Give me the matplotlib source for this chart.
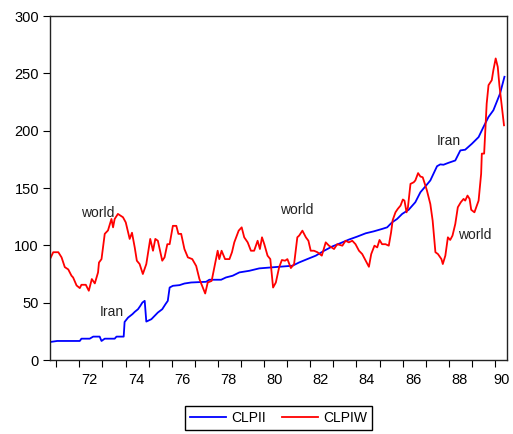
import matplotlib
matplotlib.use("Agg")
import matplotlib.pyplot as plt
from matplotlib.ticker import FixedLocator, NullFormatter

plt.rcParams["font.family"] = ["Liberation Sans", "DejaVu Sans"]

# CLPIW (world) - decimal year, index value
world_year = [1970.73, 1970.87, 1971.09, 1971.23, 1971.37, 1971.52, 1971.66, 1971.73, 1971.88, 1972.02,
              1972.09, 1972.28, 1972.41, 1972.54, 1972.67, 1972.81, 1972.85, 1972.96, 1973.10, 1973.24,
              1973.39, 1973.46, 1973.53, 1973.67, 1973.89, 1974.01, 1974.18, 1974.28, 1974.40, 1974.49,
              1974.61, 1974.75, 1974.90, 1975.07, 1975.19, 1975.29, 1975.40, 1975.59, 1975.69, 1975.81,
              1975.91, 1976.05, 1976.20, 1976.29, 1976.41, 1976.55, 1976.70, 1976.89, 1977.06, 1977.20,
              1977.45, 1977.56, 1977.73, 1977.92, 1977.99, 1978.06, 1978.16, 1978.31, 1978.50, 1978.61,
              1978.71, 1978.90, 1979.03, 1979.14, 1979.29, 1979.43, 1979.57, 1979.72, 1979.82, 1979.91,
              1980.01, 1980.15, 1980.27, 1980.39, 1980.51, 1980.65, 1980.77, 1980.91, 1981.01, 1981.16,
              1981.30, 1981.44, 1981.52, 1981.66, 1981.81, 1981.92, 1982.02, 1982.16, 1982.31, 1982.50,
              1982.67, 1982.81, 1983.03, 1983.17, 1983.39, 1983.53, 1983.67, 1983.82, 1983.96, 1984.11,
              1984.25, 1984.40, 1984.54, 1984.64, 1984.78, 1984.90, 1985.00, 1985.11, 1985.26, 1985.40,
              1985.50, 1985.57, 1985.69, 1985.79, 1985.91, 1986.01, 1986.08, 1986.17, 1986.23, 1986.34,
              1986.48, 1986.55, 1986.67, 1986.77, 1986.87, 1987.05, 1987.20, 1987.30, 1987.42, 1987.53,
              1987.68, 1987.74, 1987.85, 1987.96, 1988.06, 1988.16, 1988.28, 1988.39, 1988.52, 1988.64,
              1988.71, 1988.81, 1988.90, 1988.97, 1989.11, 1989.29, 1989.40, 1989.43, 1989.53, 1989.64,
              1989.72, 1989.86, 1989.93, 1990.03, 1990.12, 1990.19, 1990.29, 1990.39]
world_val = [88.0, 94.0, 94.0, 89.5, 81.0, 79.0, 73.5, 72.0, 65.0, 62.7,
             65.6, 65.6, 60.4, 70.6, 66.8, 76.4, 85.0, 88.0, 110.0, 113.0,
             123.0, 115.7, 123.0, 127.4, 124.5, 120.0, 105.6, 111.0, 98.0, 86.6,
             83.7, 75.0, 83.7, 105.6, 95.3, 105.6, 104.0, 86.6, 89.5, 101.0,
             101.0, 117.0, 117.0, 110.0, 110.0, 96.8, 89.5, 88.0, 82.0, 70.6,
             58.0, 67.6, 69.0, 88.0, 95.3, 88.0, 95.3, 88.0, 88.0, 94.0,
             102.6, 112.8, 115.7, 107.0, 102.6, 95.3, 95.3, 104.0, 96.8, 107.0,
             101.0, 91.0, 88.0, 63.2, 67.6, 80.7, 87.2, 86.6, 88.0, 80.2,
             83.7, 107.0, 108.5, 112.8, 107.0, 104.0, 95.3, 95.3, 94.0, 91.0,
             102.6, 99.7, 96.8, 101.0, 99.7, 104.0, 102.6, 104.0, 101.0, 95.3,
             92.4, 86.6, 81.3, 92.4, 99.7, 98.2, 104.7, 101.0, 101.0, 99.7,
             111.3, 122.0, 128.8, 131.8, 134.7, 140.0, 139.0, 128.8, 133.2, 153.6,
             155.0, 156.6, 163.0, 160.0, 159.4, 148.0, 136.0, 121.6, 94.0, 92.4,
             88.0, 83.7, 91.0, 107.0, 104.7, 108.5, 118.6, 133.2, 137.6, 140.5,
             139.0, 143.4, 140.5, 131.0, 128.8, 139.0, 162.4, 180.0, 180.0, 223.6,
             239.7, 244.0, 252.8, 263.0, 255.6, 239.7, 222.0, 204.7]

# CLPII (Iran)
iran_year = [1970.73, 1971.04, 1972.02, 1972.09, 1972.45, 1972.60, 1972.88, 1972.96, 1973.10, 1973.53,
             1973.61, 1973.92, 1973.96, 1974.11, 1974.30, 1974.40, 1974.54, 1974.64, 1974.73, 1974.83,
             1974.90, 1975.12, 1975.26, 1975.40, 1975.59, 1975.73, 1975.83, 1975.91, 1976.05, 1976.34,
             1976.55, 1976.84, 1977.49, 1977.63, 1978.14, 1978.35, 1978.64, 1978.93, 1979.36, 1979.79,
             1980.65, 1981.23, 1981.52, 1981.87, 1982.24, 1982.60, 1982.95, 1983.32, 1983.67, 1984.03,
             1984.40, 1984.75, 1985.11, 1985.33, 1985.54, 1985.76, 1985.98, 1986.26, 1986.55, 1986.77,
             1986.99, 1987.20, 1987.49, 1987.63, 1987.77, 1987.99, 1988.28, 1988.50, 1988.71, 1989.00,
             1989.29, 1989.50, 1989.72, 1989.93, 1990.22, 1990.41]
iran_val = [15.7, 16.6, 16.6, 18.6, 18.6, 20.4, 20.4, 16.6, 18.6, 18.6,
            20.4, 20.4, 33.2, 37.0, 40.0, 42.0, 44.3, 47.2, 50.1, 51.6,
            33.5, 35.6, 38.5, 41.4, 44.3, 48.7, 51.6, 63.2, 64.7, 65.3,
            66.7, 67.6, 68.2, 70.0, 70.0, 72.0, 73.5, 76.4, 77.8, 79.9,
            81.3, 82.2, 85.1, 88.0, 91.0, 95.3, 99.0, 102.0, 105.0, 107.6,
            110.5, 112.2, 114.3, 115.7, 120.0, 123.0, 127.4, 131.0, 137.6, 146.3,
            151.5, 156.6, 169.0, 170.6, 170.3, 172.0, 174.0, 182.8, 183.4, 188.6,
            194.4, 203.2, 212.0, 217.8, 232.4, 247.0]

# text labels placed on the chart
note_text = ["world", "Iran", "world", "Iran", "world"]
note_x = [1972.8, 1973.4, 1981.4, 1988.0, 1989.1]
note_y = [128.6, 42.0, 131.0, 190.7, 109.0]

years = list(range(1971, 1991))
label_years = [1972, 1974, 1976, 1978, 1980, 1982, 1984, 1986, 1988, 1990]
x_min, x_max = 1970.73, 1990.52

fig = plt.figure(figsize=(5.13, 4.34), dpi=100)
ax = fig.add_axes([0.0975, 0.1705, 0.8908, 0.7926])

line_i, = ax.plot(iran_year, iran_val, color="#0000ff", linewidth=1.3, label="CLPII")
line_w, = ax.plot(world_year, world_val, color="#ff0000", linewidth=1.3, label="CLPIW")

for t, x, y in zip(note_text, note_x, note_y):
    ax.text(x, y, t, fontsize=10, ha="center", va="center", color="#222222")

ax.set_xlim(x_min, x_max)
ax.set_ylim(0, 300)
ax.set_yticks([0, 50, 100, 150, 200, 250, 300])
ax.tick_params(axis="y", direction="out", length=5, width=0.8, labelsize=10.5, pad=3)

# year ticks on boundaries, two-digit labels centred in each even year
# (last one pulled in so it stays on the canvas)
label_pos = [min(y + 0.45, x_max - 0.25) for y in label_years]
ax.xaxis.set_major_locator(FixedLocator(years))
ax.xaxis.set_major_formatter(NullFormatter())
ax.xaxis.set_minor_locator(FixedLocator(label_pos))
ax.set_xticklabels([str(y)[2:] for y in label_years], minor=True)
ax.tick_params(axis="x", which="major", direction="out", length=5, width=0.8)
ax.tick_params(axis="x", which="minor", length=0, labelsize=10.5, pad=9)

for s in ax.spines.values():
    s.set_linewidth(1.0)
    s.set_color("#222222")

leg = fig.legend([line_i, line_w], ["CLPII", "CLPIW"], loc="center",
                 bbox_to_anchor=(278.5 / 513, 0.037), ncol=2, fontsize=10,
                 fancybox=False, edgecolor="black", framealpha=1,
                 handlelength=2.6, handletextpad=0.4, columnspacing=1.1, borderpad=0.35)
leg.get_frame().set_linewidth(1.0)

fig.savefig("out.png", dpi=100)
